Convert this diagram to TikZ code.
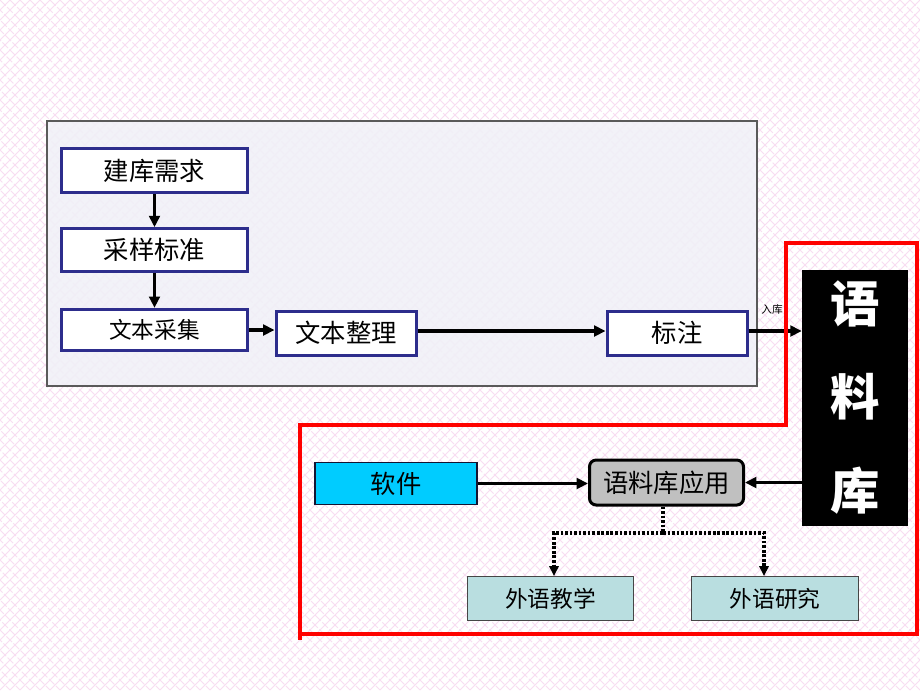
\documentclass[tikz,border=0pt]{standalone}
\usepackage{fontspec}
\usepackage{tikz}
\usetikzlibrary{arrows.meta}
\newfontfamily\cjk{Noto Sans CJK SC}
\definecolor{bgpink}{RGB}{248,220,242}
\definecolor{navyline}{RGB}{45,45,140}
\definecolor{panelgray}{RGB}{240,240,247}
\definecolor{softcyan}{RGB}{0,204,255}
\definecolor{appgray}{RGB}{192,192,192}
\definecolor{usecyan}{RGB}{185,222,224}

\begin{document}
\begin{tikzpicture}[x=0.75pt,y=0.75pt,yscale=-1,xscale=1,
  stepbox/.style={draw=navyline, line width=2.25pt, fill=white, inner sep=0pt,
    minimum width=139.5pt, font=\cjk\fontsize{19}{19}\selectfont},
  arr/.style={line width=2.4pt, -{Triangle[length=8.5pt,width=8pt]}},
  dotarr/.style={line width=2.4pt, dash pattern=on 2pt off 1.4pt},
  usebox/.style={draw={rgb,255:red,70;green,70;blue,70}, line width=0.9pt, fill=usecyan,
    inner sep=0pt, minimum width=125pt, minimum height=33pt, font=\cjk\fontsize{17}{17}\selectfont}]
\useasboundingbox (0,0) rectangle (920,690);

%Background pattern
\fill[white] (0,0) rectangle (920,690);
\begin{scope}
\clip (0,0) rectangle (920,690);
\foreach \i in {-700,-690,...,920} {
  \draw[bgpink, line width=0.6pt] (\i,690) -- (\i+690,0);
  \draw[bgpink, line width=0.6pt, dash pattern=on 6pt off 1.5pt] (\i,0) -- (\i+690,690);
}
\end{scope}

%Shape: Panel
\draw[draw={rgb,255:red,90;green,90;blue,90}, line width=0.8pt, fill=panelgray, fill opacity=0.85] (47,121) rectangle (757,386);

% Text Node
\node[stepbox, minimum height=33pt] (need) at (154.5,170.5) {建库需求};
% Text Node
\node[stepbox, minimum height=32pt] (sample) at (154.5,250) {采样标准};
% Text Node
\node[stepbox, minimum height=31pt, font=\cjk\fontsize{17}{17}\selectfont] (collect) at (154.5,330) {文本采集};
% Text Node
\node[stepbox, minimum width=105pt, minimum height=33pt] (tidy) at (346,333) {文本整理};
% Text Node
\node[stepbox, minimum width=105pt, minimum height=33pt] (tag) at (677,333) {标注};

%Shape: Corpus
\node[fill=black, text=white, inner sep=0pt, minimum width=79.5pt, minimum height=192pt,
  align=center, font=\cjk\bfseries\fontsize{37}{70}\selectfont] (corpus) at (855,397.5) {语\\料\\库};

% Text Node
\node[draw={rgb,255:red,20;green,20;blue,50}, line width=0.9pt, fill=softcyan, inner sep=0pt,
  minimum width=121.5pt, minimum height=31pt, font=\cjk\fontsize{19}{19}\selectfont] (soft) at (396,483.5) {软件};
% Text Node
\node[draw=black, line width=2.25pt, fill=appgray, rounded corners=5pt, inner sep=0pt,
  minimum width=115.5pt, minimum height=33.75pt, font=\cjk\fontsize{19}{19}\selectfont] (app) at (666.5,482.5) {语料库应用};
% Text Node
\node[usebox] (teach) at (550.5,598.5) {外语教学};
% Text Node
\node[usebox] (research) at (775,598.5) {外语研究};

%Straight Lines
\draw[arr] (need) -- (sample);
\draw[arr] (sample) -- (collect);
\draw[arr] (collect.east) -- (collect.east -| tidy.west);
\draw[arr] (tidy.east |- 0,331) -- (tag.west |- 0,331);
\draw[arr] (tag.east |- 0,331) -- (corpus.west |- 0,331);
\draw[arr] (corpus.west |- app.east) -- (app.east);
\draw[arr] (soft.east) -- (app.west |- soft.east);

% Text Node
\node[inner sep=0pt, font=\cjk\fontsize{8}{8}\selectfont] (inlabel) at (772,309) {入库};

%Dotted Lines
\coordinate (split) at (663,533);
\draw[dotarr] (app.south -| split) -- (split);
\draw[dotarr, -{Triangle[length=7.5pt,width=7pt]}] (split) -| (554,576);
\draw[dotarr, -{Triangle[length=7.5pt,width=7pt]}] (split) -| (764,576);

%Shape: Red outline
\draw[red, line width=3pt] (300,640) -- (300,425) -- (786,425) -- (786,243) -- (917,243) -- (917,634) -- (300,634);

\end{tikzpicture}
\end{document}
